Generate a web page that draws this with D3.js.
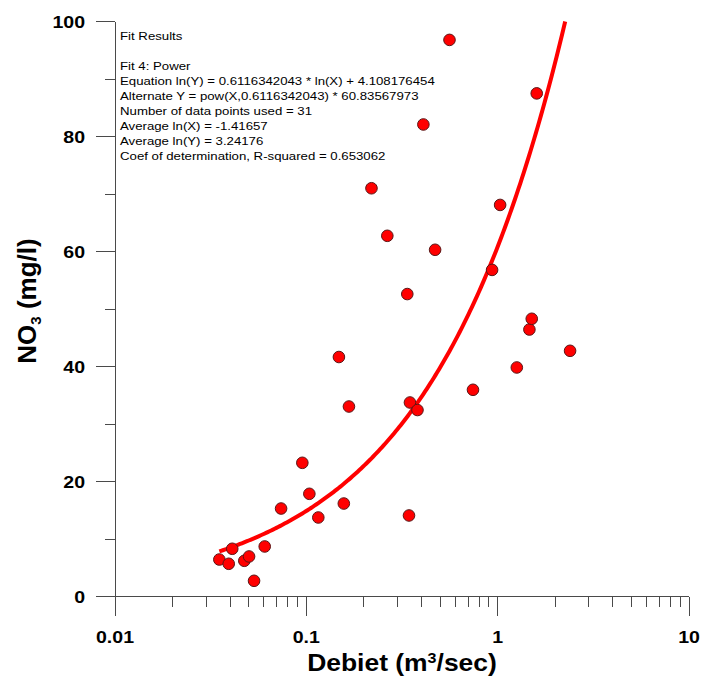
<!DOCTYPE html>
<html>
<head>
<meta charset="utf-8">
<script src="https://cdn.jsdelivr.net/npm/d3@7"></script>
<style>
  html, body { margin: 0; padding: 0; background: #fff; }
  svg { display: block; }
  text { font-family: "Liberation Sans", Arial, sans-serif; }
</style>
</head>
<body>
<svg id="chart" width="702" height="676"></svg>
<script>
// Discharge (m³/sec) and nitrate (mg/l) per sample
const debiet = [0.0351, 0.0393, 0.0410, 0.0474, 0.0502, 0.0533, 0.0606, 0.0738, 0.0953, 0.1037,
                0.1155, 0.157, 0.148, 0.167, 0.219, 0.265, 0.337, 0.348, 0.381, 0.409,
                0.471, 0.560, 0.743, 0.935, 1.03, 1.259, 1.465, 1.507, 1.60, 2.39, 0.344];
const no3    = [6.43, 5.69, 8.30, 6.21, 6.96, 2.73, 8.70, 15.3, 23.25, 17.86,
                13.74, 16.17, 41.65, 33.04, 71.0, 62.73, 52.6, 33.74, 32.43, 82.09,
                60.3, 96.8, 35.95, 56.8, 68.1, 39.83, 46.43, 48.3, 87.5, 42.73, 14.09];

// Power fit: Y = a * X^b
const fitA = 60.83567973;
const fitB = 0.6116342043;

const xTickValues = [0.01, 0.1, 1, 10];
const xTickLabels = ["0.01", "0.1", "1", "10"];
const yTickValues = [0, 20, 40, 60, 80, 100];
const yMinorValues = [10, 30, 50, 70, 90];

const fitLines = [
  "Fit Results",
  "",
  "Fit 4: Power",
  "Equation ln(Y) = 0.6116342043 * ln(X) + 4.108176454",
  "Alternate Y = pow(X,0.6116342043) * 60.83567973",
  "Number of data points used = 31",
  "Average ln(X) = -1.41657",
  "Average ln(Y) = 3.24176",
  "Coef of determination, R-squared = 0.653062"
];

const svg = d3.select("#chart");
const axisColor = "#4a4a4a";
const stretch = 1.15;

const x = d3.scaleLog().domain([0.01, 10]).range([115, 689]);
const y = d3.scaleLinear().domain([0, 100]).range([596.5, 21.5]);

// minor ticks on log axis: 2..9 within each decade
const xMinor = [];
[0.01, 0.1, 1].forEach(d => { for (let k = 2; k <= 9; k++) xMinor.push(d * k); });

const axes = svg.append("g").attr("stroke", axisColor).attr("stroke-width", 1).attr("shape-rendering", "crispEdges");

// axis lines
axes.append("line").attr("x1", x(0.01)).attr("x2", x(0.01)).attr("y1", y(100)).attr("y2", y(0));
axes.append("line").attr("x1", x(0.01)).attr("x2", x(10)).attr("y1", y(0)).attr("y2", y(0));

// y ticks
axes.selectAll(".ymaj").data(yTickValues).join("line")
  .attr("x1", x(0.01) - 19).attr("x2", x(0.01)).attr("y1", d => y(d)).attr("y2", d => y(d));
axes.selectAll(".ymin").data(yMinorValues).join("line")
  .attr("x1", x(0.01) - 10).attr("x2", x(0.01)).attr("y1", d => y(d)).attr("y2", d => y(d));

// x ticks
axes.selectAll(".xmaj").data(xTickValues).join("line")
  .attr("x1", d => x(d)).attr("x2", d => x(d)).attr("y1", y(0)).attr("y2", y(0) + 19);
axes.selectAll(".xmin").data(xMinor).join("line")
  .attr("x1", d => x(d)).attr("x2", d => x(d)).attr("y1", y(0)).attr("y2", y(0) + 10);

// y tick labels
svg.append("g").selectAll("g").data(yTickValues).join("g")
  .attr("transform", d => `translate(85,${y(d) + 6}) scale(${stretch},1)`)
  .append("text")
  .attr("text-anchor", "end")
  .attr("font-size", 17).attr("font-weight", "bold").attr("fill", "#000")
  .text(d => d);

// x tick labels
svg.append("g").selectAll("g").data(xTickValues).join("g")
  .attr("transform", d => `translate(${x(d)},643) scale(${stretch},1)`)
  .append("text")
  .attr("text-anchor", "middle")
  .attr("font-size", 17).attr("font-weight", "bold").attr("fill", "#000")
  .text((d, i) => xTickLabels[i]);

// x axis title
const xt = svg.append("g").attr("transform", `translate(402,671) scale(${stretch},1)`)
  .append("text").attr("text-anchor", "middle")
  .attr("font-size", 23).attr("font-weight", "bold").attr("fill", "#000");
xt.append("tspan").text("Debiet (m");
xt.append("tspan").attr("font-size", 14).attr("dy", -8).text("3");
xt.append("tspan").attr("dy", 8).text("/sec)");

// y axis title
const yt = svg.append("g").attr("transform", "translate(36,301) rotate(-90)")
  .append("text").attr("text-anchor", "middle")
  .attr("font-size", 26).attr("font-weight", "bold").attr("fill", "#000");
yt.append("tspan").text("NO");
yt.append("tspan").attr("font-size", 15).attr("dy", 5).text("3");
yt.append("tspan").attr("dy", -5).text(" (mg/l)");

// fit curve
const curveX = d3.range(0, 201).map(i => {
  const lo = Math.log10(d3.min(debiet));
  const hi = Math.log10(Math.pow(100 / fitA, 1 / fitB));
  return Math.pow(10, lo + (hi - lo) * i / 200);
});
svg.append("path")
  .datum(curveX)
  .attr("fill", "none")
  .attr("stroke", "#ff0000")
  .attr("stroke-width", 4)
  .attr("d", d3.line().x(d => x(d)).y(d => y(fitA * Math.pow(d, fitB))));

// data points
svg.append("g").selectAll("circle").data(debiet).join("circle")
  .attr("cx", d => x(d))
  .attr("cy", (d, i) => y(no3[i]))
  .attr("r", 5.8)
  .attr("fill", "#ff0000")
  .attr("stroke", "#5a1515")
  .attr("stroke-width", 1);

// fit results text block
const ft = svg.append("g").attr("transform", `translate(120,0) scale(${stretch},1)`);
fitLines.forEach((t, i) => {
  if (!t) return;
  ft.append("text")
    .attr("x", 0)
    .attr("y", 40 + (i === 0 ? 0 : 30 + (i - 2) * 15) )
    .attr("font-size", 11.5)
    .attr("fill", "#000")
    .text(t);
});
</script>
</body>
</html>
